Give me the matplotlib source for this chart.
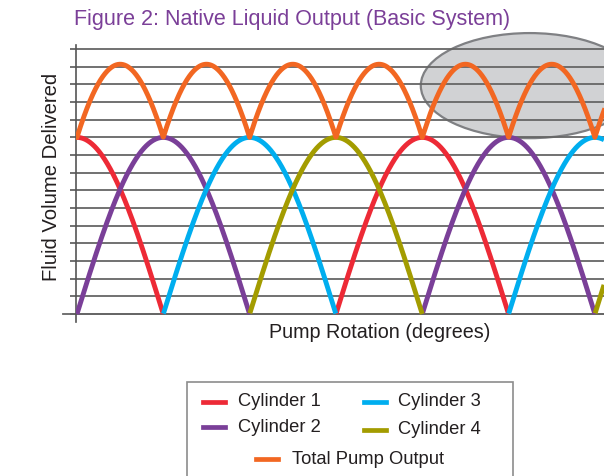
import matplotlib.pyplot as plt
import numpy as np
from matplotlib.patches import Ellipse, Rectangle
from matplotlib.lines import Line2D

plt.rcParams['font.family'] = ['Liberation Sans', 'DejaVu Sans']

# Stroke start angles (degrees) of each cylinder's delivery half-cycle
names = ['Cylinder 1', 'Cylinder 2', 'Cylinder 3', 'Cylinder 4']
stroke_starts = [[-90, 270], [0, 360], [90, 450], [180, 540]]
colors = ['#ed2a36', '#7a3f98', '#00aeef', '#a39c00']
peak_volume = 10          # grid units
total_color = '#f26722'
total_name = 'Total Pump Output'
x_max = 549.5
grid_levels = list(range(0, 16))

W, H = 604, 476
fig = plt.figure(figsize=(W / 100, H / 100), dpi=100)
ax = fig.add_axes([76 / W, 154 / H, 528 / W, 277 / H])

deg = np.linspace(-1, x_max, 2200)
total = np.zeros_like(deg)
for starts, col in zip(stroke_starts, colors):
    for s in starts:
        m = (deg >= s) & (deg <= s + 180)
        if not m.any():
            continue
        xs = deg[m]
        ys = peak_volume * np.sin(np.pi * (xs - s) / 180)
        total[m] += ys
        ax.plot(xs, ys, color=col, lw=3.5, solid_capstyle='butt', zorder=3)
ax.plot(deg, total, color=total_color, lw=3.5, zorder=4)

# highlight ellipse
ax.add_patch(Ellipse((472, 12.93), 227, 5.95, facecolor='#d1d2d4',
                     edgecolor='#7f8083', lw=1.6, zorder=0.3, clip_on=False))

ax.set_xlim(-1, x_max)
ax.set_ylim(-0.45, 15.23)
ax.set_yticks(grid_levels)
ax.set_yticklabels([])
ax.set_xticks([])
ax.tick_params(axis='y', length=4, width=1.3, color='#666666')
ax.set_axisbelow(True)
ax.grid(axis='y', color='#666666', lw=1.3)
for sp in ['top', 'right', 'bottom']:
    ax.spines[sp].set_visible(False)
ax.spines['left'].set_color('#555555')
ax.spines['left'].set_linewidth(1.2)
ax.axhline(0, xmin=-0.024, xmax=1, color='#666666', lw=1.3, clip_on=False, zorder=1)

fig.text(74 / W, 1 - 20 / H, 'Figure 2: Native Liquid Output (Basic System)',
         color='#7b3f98', fontsize=15.5, va='center', ha='left')
fig.text(52 / W, 1 - 177 / H, 'Fluid Volume Delivered', rotation=90,
         fontsize=14.6, va='center', ha='center', color='#231f20')
fig.text(380 / W, 1 - 333 / H, 'Pump Rotation (degrees)',
         fontsize=14.2, va='center', ha='center', color='#231f20')

# legend box
fig.add_artist(Rectangle((187 / W, -0.01), 326 / W, (476 - 382) / H + 0.01,
                         transform=fig.transFigure, facecolor='white',
                         edgecolor='#8c8c8c', lw=1.2))
leg_items = [(names[0], colors[0], 203, 238, 402),
             (names[2], colors[2], 364, 398, 402),
             (names[1], colors[1], 203, 238, 427),
             (names[3], colors[3], 364, 398, 430),
             (total_name, total_color, 256, 292, 459)]
for label, col, hx, tx, ty in leg_items:
    fig.add_artist(Line2D([hx / W, (hx + 22) / W], [1 - ty / H, 1 - ty / H],
                          color=col, lw=3.4, transform=fig.transFigure))
    fig.text(tx / W, 1 - ty / H, label, fontsize=13.2, va='center', ha='left',
             color='#231f20')

fig.savefig('out.png', dpi=100)
